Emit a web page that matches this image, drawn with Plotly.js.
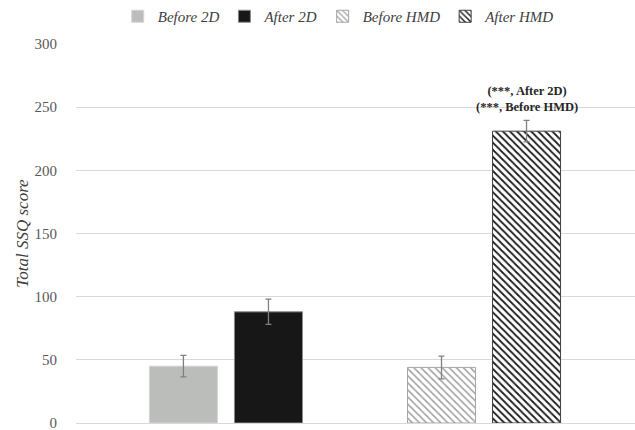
<!DOCTYPE html>
<html>
<head>
<meta charset="utf-8">
<script src="https://cdn.plot.ly/plotly-3.0.1.min.js"></script>
<style>html,body{margin:0;padding:0;background:#fff;}#chart{width:635px;height:430px;}</style>
</head>
<body>
<div id="chart"></div>
<script>
var categories = ["2D", "HMD"];
var seriesNames = ["Before 2D", "After 2D", "Before HMD", "After HMD"];
var before2D = [45, null];
var after2D = [88, null];
var beforeHMD = [null, 44];
var afterHMD = [null, 231];
var before2DErr = [8.5, null];
var after2DErr = [10, null];
var beforeHMDErr = [null, 9];
var afterHMDErr = [null, 8.5];
var annotationLines = ["(***, After 2D)", "(***, Before HMD)"];
var yTicks = [0, 50, 100, 150, 200, 250, 300];

var SERIF = "Liberation Serif, Times New Roman, DejaVu Serif, serif";
var errStyle = {type: "data", visible: true, color: "#808080", thickness: 1.3, width: 3};
function err(a) { return Object.assign({array: a}, errStyle); }

var traces = [
  {type: "bar", name: seriesNames[0], x: categories, y: before2D, offsetgroup: "before",
   error_y: err(before2DErr),
   marker: {color: "#bbbdbb", line: {color: "#d4d4d4", width: 1}}},
  {type: "bar", name: seriesNames[1], x: categories, y: after2D, offsetgroup: "after",
   error_y: err(after2DErr),
   marker: {color: "#171717", line: {color: "#8a8a8a", width: 1}}},
  {type: "bar", name: seriesNames[2], x: categories, y: beforeHMD, offsetgroup: "before",
   error_y: err(beforeHMDErr),
   marker: {color: "#ffffff", line: {color: "#a6a6a6", width: 1},
            pattern: {shape: "\\", fgcolor: "#a0a0a0", bgcolor: "#ffffff", size: 5, solidity: 0.3}}},
  {type: "bar", name: seriesNames[3], x: categories, y: afterHMD, offsetgroup: "after",
   error_y: err(afterHMDErr),
   marker: {color: "#ffffff", line: {color: "#404040", width: 1},
            pattern: {shape: "\\", fgcolor: "#1a1a1a", bgcolor: "#ffffff", size: 5, solidity: 0.35}}}
];

var layout = {
  width: 635, height: 430,
  margin: {l: 76, r: 0, t: 44, b: 7},
  paper_bgcolor: "#ffffff", plot_bgcolor: "#ffffff",
  font: {family: SERIF, color: "#595959", size: 14},
  barmode: "group",
  bargap: 0.341, bargroupgap: 0.2,
  showlegend: true,
  legend: {orientation: "h", x: 0.47, xanchor: "center", y: 1.03, yanchor: "bottom",
           font: {family: SERIF, size: 15, color: "#404040", style: "italic"},
           itemwidth: 30, traceorder: "normal"},
  xaxis: {type: "category", range: [-0.581, 1.585], showticklabels: false, showgrid: false,
          zeroline: false, showline: false, ticks: ""},
  yaxis: {range: [0, 300], tickvals: yTicks, showgrid: true, gridcolor: "#d9d9d9", gridwidth: 1,
          zeroline: true, zerolinecolor: "#d9d9d9", showline: false, ticks: "",
          ticklabelstandoff: 18, ticklabeloverflow: "allow",
          tickfont: {family: SERIF, size: 15, color: "#595959"},
          title: {text: "Total SSQ score", standoff: 1,
                  font: {family: SERIF, size: 17, color: "#404040", style: "italic"}}},
  annotations: [{
    x: categories[1], y: afterHMD[1] + afterHMDErr[1], xref: "x", yref: "y",
    xshift: 43, yshift: 4, yanchor: "bottom", xanchor: "center",
    text: "<b>" + annotationLines.join("<br>") + "</b>", showarrow: false,
    font: {family: SERIF, size: 12.5, color: "#262626"}, align: "center"
  }]
};

Plotly.newPlot("chart", traces, layout, {displayModeBar: false, staticPlot: true});
</script>
</body>
</html>
